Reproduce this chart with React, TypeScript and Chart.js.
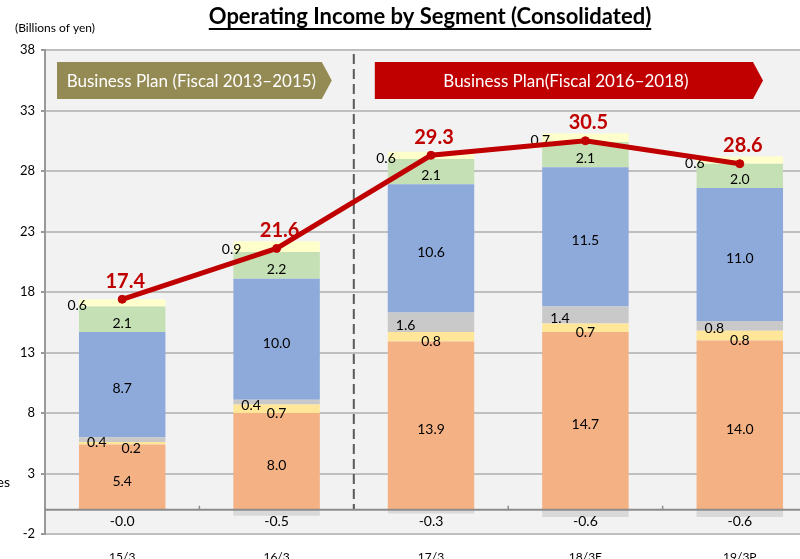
import React, { useEffect, useRef } from "react";
import { Chart, registerables } from "chart.js";

Chart.register(...registerables);

const categories = ["15/3", "16/3", "17/3", "18/3E", "19/3P"];
const segOrange = [5.4, 8.0, 13.9, 14.7, 14.0];
const segYellow = [0.2, 0.7, 0.8, 0.7, 0.8];
const segGray = [0.4, 0.4, 1.6, 1.4, 0.8];
const segBlue = [8.7, 10.0, 10.6, 11.5, 11.0];
const segGreen = [2.1, 2.2, 2.1, 2.1, 2.0];
const segTop = [0.6, 0.9, 0.6, 0.7, 0.6];
const segAdjust = [-0.02, -0.5, -0.3, -0.6, -0.6];
const totals = [17.4, 21.6, 29.3, 30.5, 28.6];
const yMin = -2;
const yMax = 38;
const yStep = 5;

const titleText = "Operating Income by Segment (Consolidated)";
const unitText = "(Billions of yen)";
const plan1Text = "Business Plan (Fiscal 2013\u20132015)";
const plan2Text = "Business Plan(Fiscal 2016\u20132018)";
const legendStub = "es";

const FONT = "Lato, 'Open Sans', sans-serif";

function drawBanner(ctx: CanvasRenderingContext2D, x1: number, x2: number, y1: number, y2: number, tip: number, color: string, text: string) {
  ctx.save();
  ctx.beginPath();
  ctx.moveTo(x1, y1);
  ctx.lineTo(x2 - tip, y1);
  ctx.lineTo(x2, (y1 + y2) / 2);
  ctx.lineTo(x2 - tip, y2);
  ctx.lineTo(x1, y2);
  ctx.closePath();
  ctx.fillStyle = color;
  ctx.fill();
  ctx.fillStyle = "#ffffff";
  ctx.font = `17px ${FONT}`;
  ctx.textAlign = "center";
  ctx.textBaseline = "middle";
  ctx.fillText(text, (x1 + x2 - tip) / 2 + 2, (y1 + y2) / 2 + 1);
  ctx.restore();
}

function drawBarLabels(chart: any) {
  const { ctx } = chart;
  const zeroY = chart.scales.y.getPixelForValue(0);
  ctx.save();
  ctx.font = `14px ${FONT}`;
  ctx.fillStyle = "#000000";
  ctx.textBaseline = "middle";
  chart.data.datasets.forEach((ds: any, i: number) => {
    const role = ds.role;
    if (!role || role === "total") return;
    const meta = chart.getDatasetMeta(i);
    meta.data.forEach((el: any, j: number) => {
      const v = ds.data[j];
      const txt = v.toFixed(1);
      const mid = (el.y + el.base) / 2;
      const left = el.x - el.width / 2;
      if (role === "center") {
        ctx.textAlign = "center";
        ctx.fillText(txt, el.x, mid + 4);
      } else if (role === "yellow") {
        ctx.textAlign = "center";
        ctx.fillText(txt, el.x + (j === 0 ? 9 : 0), mid + 5);
      } else if (role === "gray") {
        ctx.textAlign = "left";
        ctx.fillText(txt, left + 8, mid + 3);
      } else if (role === "top") {
        ctx.textAlign = "right";
        ctx.fillText(txt, left + 8, mid + 3);
      } else if (role === "neg") {
        ctx.textAlign = "center";
        ctx.fillText(txt, el.x, zeroY + 12);
      }
    });
  });
  ctx.restore();
}

const decorPlugin = {
  id: "decor",
  beforeDraw(chart: any) {
    const { ctx, chartArea } = chart;
    ctx.save();
    ctx.fillStyle = "#ffffff";
    ctx.fillRect(0, 0, chart.width, chart.height);
    ctx.fillStyle = "#f2f2f2";
    ctx.fillRect(chartArea.left, chartArea.top, chartArea.right - chartArea.left, chartArea.bottom - chartArea.top);
    ctx.restore();
  },
  beforeDatasetsDraw(chart: any) {
    const { ctx, chartArea } = chart;
    const xs = chart.scales.x;
    const ys = chart.scales.y;
    const zeroY = ys.getPixelForValue(0);
    const dashX = (xs.getPixelForValue(1) + xs.getPixelForValue(2)) / 2;
    ctx.save();
    ctx.strokeStyle = "#8c8c8c";
    ctx.lineWidth = 1.5;
    for (let i = 0; i < categories.length - 1; i++) {
      const bx = (xs.getPixelForValue(i) + xs.getPixelForValue(i + 1)) / 2;
      ctx.beginPath();
      ctx.moveTo(bx, zeroY - 4);
      ctx.lineTo(bx, zeroY);
      ctx.stroke();
    }
    ctx.strokeStyle = "#595959";
    ctx.lineWidth = 2;
    ctx.setLineDash([10, 5]);
    ctx.beginPath();
    ctx.moveTo(dashX, chartArea.top + 4);
    ctx.lineTo(dashX, zeroY);
    ctx.stroke();
    ctx.setLineDash([]);
    ctx.restore();
    const by1 = chartArea.top + 12;
    const by2 = chartArea.top + 49;
    drawBanner(ctx, chartArea.left + 12, dashX - 22, by1, by2, 10, "#948a54", plan1Text);
    drawBanner(ctx, dashX + 21, 763, by1, by2, 10, "#c00000", plan2Text);
  },
  beforeDatasetDraw(chart: any, args: any) {
    const ds = chart.data.datasets[args.index];
    if (ds.role !== "total") return;
    const { ctx, chartArea } = chart;
    const zeroY = chart.scales.y.getPixelForValue(0);
    ctx.save();
    ctx.strokeStyle = "#8c8c8c";
    ctx.lineWidth = 2;
    ctx.beginPath();
    ctx.moveTo(chartArea.left, zeroY);
    ctx.lineTo(chartArea.right, zeroY);
    ctx.stroke();
    ctx.restore();
    drawBarLabels(chart);
  },
  afterDatasetsDraw(chart: any) {
    const { ctx } = chart;
    const idx = chart.data.datasets.findIndex((d: any) => d.role === "total");
    const meta = chart.getDatasetMeta(idx);
    ctx.save();
    ctx.font = `bold 20px ${FONT}`;
    ctx.fillStyle = "#c00000";
    ctx.textAlign = "center";
    ctx.textBaseline = "middle";
    meta.data.forEach((pt: any, j: number) => {
      ctx.fillText(totals[j].toFixed(1), pt.x + 3, pt.y - 18);
    });
    ctx.restore();
  },
  afterDraw(chart: any) {
    const { ctx } = chart;
    ctx.save();
    ctx.fillStyle = "#000000";
    ctx.font = `bold 22px ${FONT}`;
    ctx.textAlign = "center";
    ctx.textBaseline = "alphabetic";
    const cx = 430;
    const by = 24;
    ctx.fillText(titleText, cx, by);
    const w = ctx.measureText(titleText).width;
    ctx.fillRect(cx - w / 2, by + 4, w, 2);
    ctx.font = `12px ${FONT}`;
    ctx.textAlign = "left";
    ctx.textBaseline = "middle";
    ctx.fillText(unitText, 15, 28);
    ctx.font = `14px ${FONT}`;
    ctx.textAlign = "right";
    ctx.fillText(legendStub, 10, 482);
    ctx.restore();
  },
};

export default function App() {
  const ref = useRef<HTMLCanvasElement | null>(null);
  useEffect(() => {
    if (!ref.current) return;
    const barCommon = { stack: "seg", order: 1, barPercentage: 0.56, categoryPercentage: 1, borderWidth: 0 };
    const chart = new Chart(ref.current, {
      type: "bar",
      data: {
        labels: categories,
        datasets: [
          { ...barCommon, label: "A", data: segOrange, backgroundColor: "#f4b183", role: "center" } as any,
          { ...barCommon, label: "B", data: segYellow, backgroundColor: "#ffe699", role: "yellow" } as any,
          { ...barCommon, label: "C", data: segGray, backgroundColor: "#c9c9c9", role: "gray" } as any,
          { ...barCommon, label: "D", data: segBlue, backgroundColor: "#8eaadb", role: "center" } as any,
          { ...barCommon, label: "E", data: segGreen, backgroundColor: "#c5e0b4", role: "center" } as any,
          { ...barCommon, label: "F", data: segTop, backgroundColor: "#ffffcc", role: "top" } as any,
          { ...barCommon, label: "G", data: segAdjust, backgroundColor: "#d9d9d9", role: "neg" } as any,
          {
            type: "line",
            label: "Total",
            data: totals,
            stack: "total",
            order: 0,
            borderColor: "#c00000",
            backgroundColor: "#c00000",
            borderWidth: 5,
            pointRadius: 4,
            pointBorderWidth: 1,
            pointBackgroundColor: "#c00000",
            pointBorderColor: "#c00000",
            tension: 0,
            role: "total",
          } as any,
        ],
      },
      options: {
        responsive: false,
        animation: false,
        devicePixelRatio: 1,
        layout: { padding: { left: 0, top: 50, right: 13, bottom: 0 } },
        plugins: { legend: { display: false }, tooltip: { enabled: false }, title: { display: false } },
        scales: {
          x: {
            stacked: true,
            grid: { display: false, drawTicks: false },
            border: { display: false },
            ticks: { color: "#000", font: { family: FONT, size: 12 }, padding: 16, maxRotation: 0 },
            afterFit: (s: any) => {
              s.height = 25;
            },
          },
          y: {
            stacked: true,
            min: yMin,
            max: yMax,
            ticks: { stepSize: yStep, color: "#000", font: { family: FONT, size: 13 }, padding: 6 },
            grid: { color: "#bfbfbf", lineWidth: 2, tickLength: 4, tickColor: "#999999" },
            border: { display: true, color: "#999999", width: 2 },
            afterFit: (s: any) => {
              s.width = 45;
            },
          },
        },
      } as any,
      plugins: [decorPlugin],
    });
    return () => chart.destroy();
  }, []);
  return (
    <div style={{ position: "fixed", left: 0, top: 0, width: 800, height: 559, overflow: "hidden", background: "#fff" }}>
      <canvas ref={ref} width={830} height={559} style={{ display: "block", width: 830, height: 559 }} />
    </div>
  );
}
